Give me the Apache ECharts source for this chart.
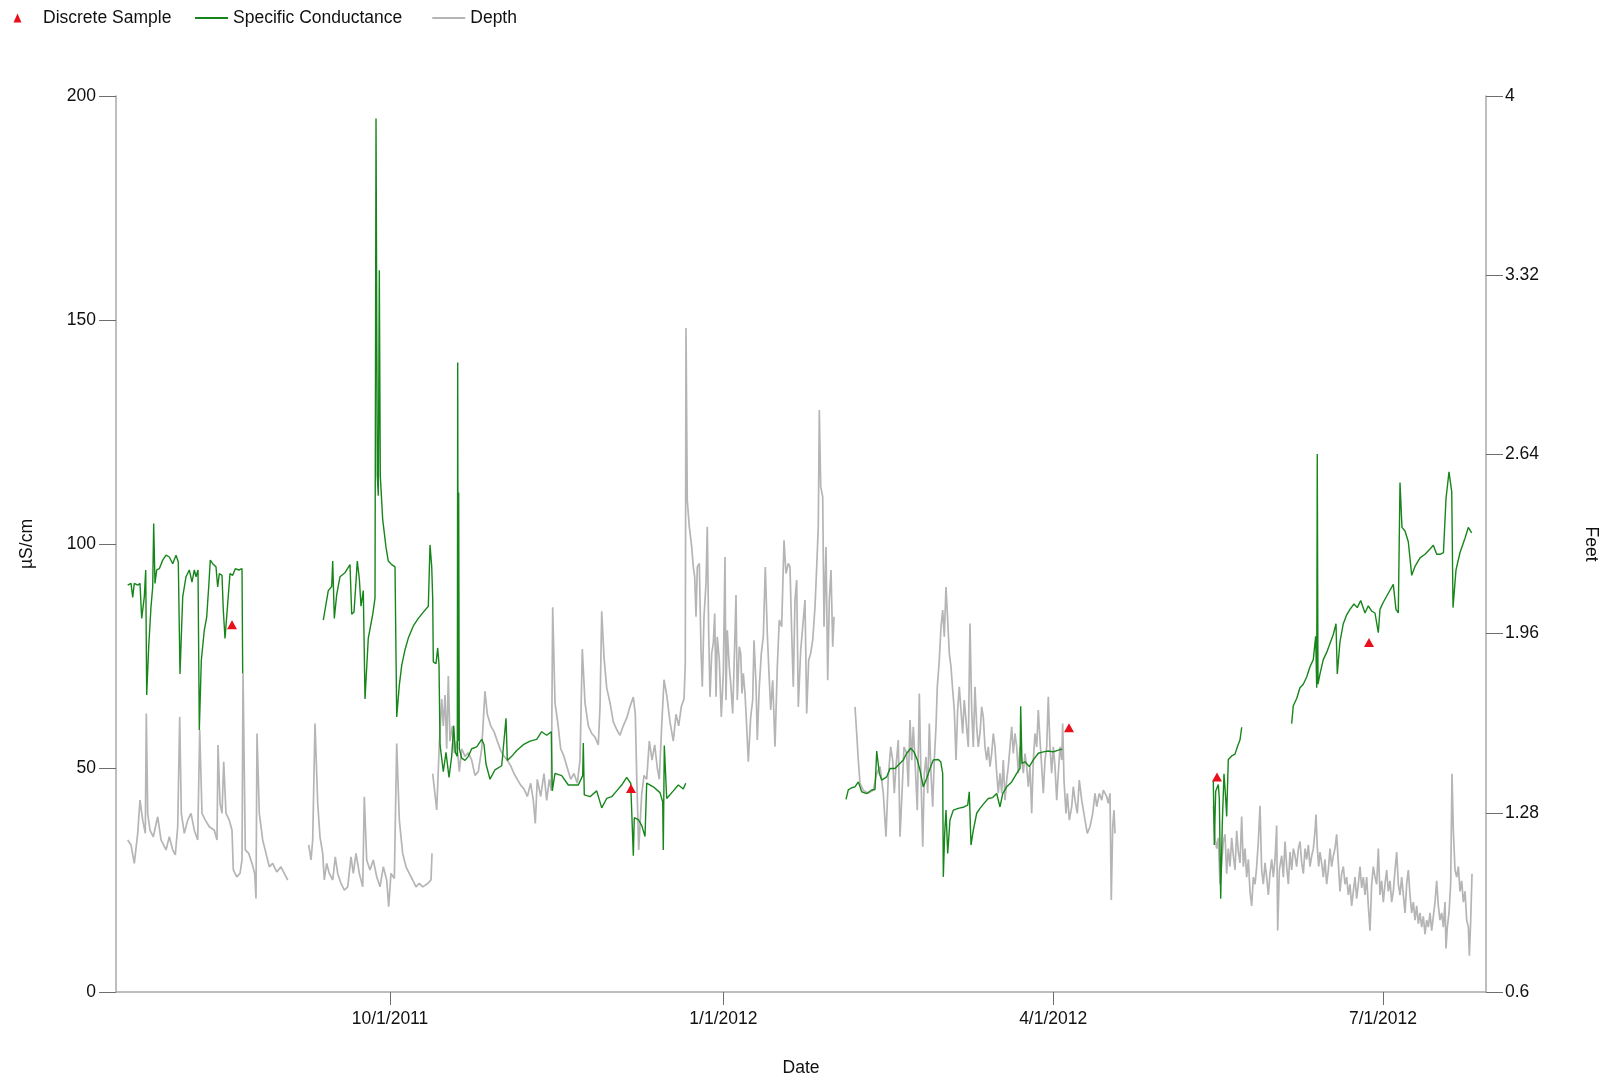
<!DOCTYPE html>
<html>
<head>
<meta charset="utf-8">
<script src="https://cdn.jsdelivr.net/npm/echarts@6/dist/echarts.min.js"></script>
<style>
  html, body { margin: 0; padding: 0; background: #ffffff; }
  #chart { width: 1612px; height: 1083px; }
</style>
</head>
<body>
<div id="chart"></div>
<script>
// Record time is given as days since 1 Jul 2011 00:00 (local time).
const EPOCH = new Date(2011, 6, 1).getTime();
const DAY = 86400000;

// Axis extent (days since epoch) and labelled dates
const dateRange = [16.39, 394.43];
const dateTicks = [[2011, 9, 1], [2012, 0, 1], [2012, 3, 1], [2012, 6, 1]];
const conductanceTicks = { min: 0, max: 200, step: 50 };
const feetTicks = [0.6, 1.28, 1.96, 2.64, 3.32, 4];

// Specific conductance, µS/cm — continuous runs between data gaps
const scRun1 = [[19.62,90.8],[20.53,91.2],[21.00,88.1],[21.44,91.2],[22.38,90.8],[23.01,91.2],[23.48,83.4],[24.20,88.2],[24.59,94.2],[24.86,66.3],[25.41,77],[26.05,86],[26.52,90.4],[26.79,104.6],[27.15,91.2],[27.62,94.2],[28.34,94.5],[29.28,96.4],[30.19,97.5],[31.10,97.1],[32.04,95.6],[32.95,97.5],[33.58,96],[34.05,71],[34.80,88.2],[35.71,92.7],[36.62,94.2],[37.36,91.5],[38.00,94.2],[38.47,92.7],[39.02,94.2],[39.38,58.5],[39.93,74],[40.76,80.8],[41.42,83.7],[41.97,90.4],[42.41,96.4],[43.07,95.6],[43.98,94.9],[44.45,90.4],[44.90,93.4],[45.64,93],[46.00,85.2],[46.47,78.9],[47.21,86.7],[47.85,93.4],[48.59,93],[49.31,94.5],[50.25,94.2],[51.16,94.5],[51.35,71.1]];
const scRun2 = [[73.59,83],[74.97,89.6],[75.91,90.5],[76.19,96.2],[76.63,83.4],[77.29,88.7],[78.20,92.7],[79.58,93.6],[80.96,95.4],[81.43,84.3],[82.06,84.8],[82.53,90.5],[82.97,96.2],[83.53,92.3],[84.00,86.1],[84.63,89.6],[85.10,65.4],[86.01,79],[87.23,84.3],[87.86,87.9],[88.14,195],[88.49,115.2],[88.77,110.8],[89.05,161.1],[89.32,115.2],[89.98,105.5],[90.89,99.3],[91.53,96.2],[92.47,95.4],[93.38,94.9],[93.85,61.4],[94.57,68.5],[95.23,72.9],[96.14,76.4],[97.05,79],[98.43,81.7],[99.81,83.4],[101.19,84.8],[102.57,86.1],[103.04,99.8],[103.51,94.9],[103.78,87.9],[103.95,73.7],[104.69,73.3],[105.16,76.8],[105.52,73.1],[105.80,55.2],[106.71,49.2],[107.45,53.5],[108.28,47.9],[109.02,52.6],[109.58,59.4],[110.02,53.5],[110.57,52.6],[110.68,140.5],[110.84,56],[110.95,111.5],[111.12,54.3],[111.78,52.2],[112.69,51.7],[113.60,52.6],[114.54,54.3],[115.92,54.7],[117.30,56.4],[117.94,55.2],[118.49,50.9],[119.59,47.5],[120.97,49.6],[122.82,50.5],[124.01,61.1],[124.37,51.7],[125.58,52.6],[126.96,53.9],[128.78,55.2],[130.63,56],[132.48,56.4],[133.86,58.1],[135.24,57.3],[136.51,58.1],[136.78,44.9],[137.53,48.8],[139.38,48.3],[141.20,46.2],[143.96,46.2],[145.17,48.3],[145.34,55.6],[145.61,44],[147.19,43.6],[149.03,44.9],[150.42,41.1],[151.79,43.2],[153.18,43.6],[154.55,44.9],[155.93,46.2],[157.31,47.9],[158.42,46.6],[159.14,30.4],[159.41,38.9],[160.51,38.5],[161.45,37.2],[162.36,34.7],[162.83,46.6],[164.65,45.8],[166.50,44.5],[167.25,42.4],[167.41,31.7],[167.69,55],[168.35,43.2],[170.17,44.9],[171.55,46.2],[172.93,45.3],[173.59,46.6]];
const scRun3 = [[217.83,43],[218.46,45.1],[219.40,45.6],[220.31,45.8],[221.22,46.9],[222.16,44.7],[223.54,44.3],[224.92,45.1],[225.83,45.2],[226.30,53.8],[227.02,48.8],[227.68,47.3],[229.06,48],[229.97,49.9],[231.35,49.9],[232.54,50.9],[233.64,51.8],[234.58,53.3],[235.68,54.4],[236.59,53.6],[237.50,51.8],[238.25,49.5],[239.16,45.8],[240.10,47.7],[241.01,49.9],[241.92,51.8],[243.30,51.9],[243.96,51.4],[244.51,48.8],[244.68,25.7],[245.06,35.4],[245.42,40.6],[245.89,30.9],[246.52,38.4],[247.44,40.6],[248.81,41],[250.39,41.3],[251.41,41.7],[251.85,44.7],[252.32,32.8],[252.95,36.1],[253.89,39.9],[254.80,41],[255.90,42.1],[257.09,43.2],[258.31,43.4],[259.41,44.3],[260.32,41.3],[261.07,44.3],[262.17,45.8],[263.55,46.9],[264.93,48.8],[265.84,49.9],[266.03,63.8],[266.39,51],[267.22,51.4],[268.41,50.3],[269.51,51.8],[270.89,53.3],[272.27,53.6],[273.65,53.8],[275.03,53.6],[276.41,54],[277.51,54.2]];
const scRun4 = [[319.18,47.1],[319.46,32.8],[319.84,44.8],[320.56,46.3],[320.84,43.2],[321.22,20.8],[321.66,37.6],[322.13,48.7],[322.60,43.2],[322.87,39.2],[323.32,51.9],[324.26,52.7],[325.17,53.1],[325.80,54.7],[326.55,56.3],[327.02,59.1]];
const scRun5 = [[340.81,59.9],[341.25,63.9],[342.19,65.5],[343.10,67.9],[344.01,68.7],[344.95,70.3],[345.86,72.6],[346.77,74.2],[347.43,79.4],[347.71,67.9],[347.87,120.1],[348.07,68.7],[348.62,71],[349.53,74.2],[350.47,75.8],[351.38,77.8],[352.29,79.8],[353.04,82.2],[353.39,71],[354.14,78.2],[355.05,82.2],[355.99,84.2],[356.90,85.4],[358.00,86.6],[358.91,85.8],[359.85,87.4],[361.04,84.6],[361.95,86.2],[362.89,85],[363.80,84.6],[364.71,80.2],[365.18,85.4],[366.09,87],[367.47,89],[368.85,91],[369.59,85.4],[370.23,84.6],[370.70,113.7],[371.25,103.7],[372.08,102.9],[372.99,100.5],[373.93,93],[374.84,95],[376.22,96.9],[377.60,97.7],[378.98,98.9],[379.89,99.7],[380.83,97.7],[381.74,97.7],[382.69,98.1],[383.39,110.1],[384.22,116.1],[384.97,111.7],[385.33,85.8],[386.15,94.2],[387.26,98.1],[388.64,101.3],[389.54,103.7],[390.48,102.5]];

// Depth, feet — continuous runs between data gaps
const depthRun1 = [[19.62,1.177],[20.53,1.158],[21.44,1.088],[22.38,1.202],[23.01,1.328],[23.76,1.252],[24.48,1.202],[24.75,1.657],[25.14,1.278],[25.77,1.214],[26.68,1.189],[27.90,1.265],[28.81,1.177],[30.19,1.139],[31.10,1.189],[32.04,1.139],[32.75,1.12],[33.42,1.227],[33.97,1.644],[34.41,1.278],[35.24,1.202],[36.18,1.252],[37.09,1.278],[38.00,1.214],[38.93,1.177],[39.49,1.594],[40.12,1.278],[41.03,1.252],[42.14,1.227],[43.52,1.214],[44.26,1.177],[44.54,1.537],[45.09,1.316],[45.64,1.278],[46.11,1.474],[46.74,1.278],[47.65,1.252],[48.40,1.214],[48.76,1.063],[49.70,1.037],[50.61,1.05],[51.16,1.101],[51.44,1.809],[52.07,1.139],[53.01,1.126],[53.92,1.088],[54.66,1.05],[55.02,0.955],[55.30,1.581],[55.93,1.278],[56.87,1.177],[57.78,1.126],[58.69,1.075],[59.63,1.088],[60.73,1.056],[61.92,1.075],[62.83,1.05],[63.77,1.025]];
const depthRun2 = [[69.56,1.158],[70.20,1.101],[70.67,1.177],[71.30,1.619],[72.05,1.316],[72.68,1.189],[73.43,1.126],[73.87,1.025],[74.53,1.088],[75.25,1.05],[76.19,1.025],[76.90,1.113],[77.57,1.05],[78.48,1.012],[79.39,0.987],[80.33,0.999],[81.24,1.113],[81.87,1.05],[82.62,1.126],[83.53,1.05],[84.47,0.999],[84.91,1.341],[85.57,1.101],[86.48,1.063],[87.39,1.101],[88.33,1.037],[89.24,0.999],[90.15,1.075],[91.09,1.025],[91.64,0.924],[92.27,1.05],[93.19,1.031],[93.85,1.543],[94.57,1.252],[95.50,1.126],[96.41,1.075],[97.32,1.05],[98.26,1.025],[99.17,0.999],[100.08,1.012],[101.02,0.999],[102.40,1.012],[103.31,1.025],[103.59,1.126]];
const depthRun3 = [[103.78,1.429],[104.42,1.349],[104.89,1.291],[105.60,1.538],[106.27,1.712],[106.71,1.61],[107.18,1.727],[107.64,1.523],[108.09,1.799],[108.55,1.552],[109.19,1.61],[109.74,1.508],[110.40,1.552],[111.12,1.436],[111.78,1.523],[112.69,1.494],[113.60,1.508],[114.54,1.48],[115.45,1.422],[116.36,1.436],[117.30,1.523],[118.21,1.741],[118.85,1.654],[119.79,1.61],[120.70,1.588],[121.61,1.552],[122.55,1.516],[123.46,1.494],[124.37,1.48],[125.31,1.458],[126.21,1.429],[127.12,1.407],[128.06,1.385],[128.97,1.371],[129.89,1.342],[130.82,1.392],[131.54,1.327],[132.09,1.24],[132.64,1.407],[133.58,1.342],[134.49,1.429],[135.24,1.327],[135.95,1.407],[136.51,1.364],[136.89,2.06],[137.53,1.697],[138.27,1.625],[139.10,1.523],[140.01,1.494],[140.92,1.45],[141.86,1.407],[142.77,1.429],[143.68,1.392],[144.43,1.48],[145.06,1.901],[145.81,1.697],[146.72,1.61],[147.66,1.581],[148.57,1.567],[149.48,1.538],[149.95,1.683],[150.42,2.045],[151.05,1.871],[151.79,1.755],[152.71,1.697],[153.62,1.625],[154.55,1.596],[155.46,1.574],[156.37,1.61],[157.31,1.639],[158.22,1.683],[159.14,1.719],[159.69,1.654],[160.07,1.422],[160.62,1.139],[161.45,1.349],[162.09,1.422],[162.83,1.407],[163.55,1.552],[164.30,1.48],[165.04,1.538],[165.76,1.45],[166.31,1.407],[166.97,1.61],[167.61,1.785],[168.35,1.727],[169.26,1.625],[170.17,1.552],[170.92,1.654],[171.66,1.61],[172.38,1.683],[173.13,1.712],[173.48,1.843],[173.68,3.12],[174.03,2.466],[174.59,2.365],[175.25,2.289],[175.69,2.213],[176.08,2.175],[176.44,2.024],[176.80,2.213],[177.35,2.226],[177.82,1.897],[178.17,1.758],[178.64,2.024],[179.20,2.15],[179.55,2.365],[179.94,1.961],[180.30,1.72],[180.77,1.885],[181.21,1.923],[181.60,2.036],[181.96,1.72],[182.31,1.948],[182.87,1.859],[183.42,1.644],[183.97,1.809],[184.44,2.251],[184.71,1.708],[185.07,1.973],[185.62,1.834],[186.01,1.771],[186.56,1.657],[187.20,1.961],[187.47,2.106],[187.83,1.708],[188.38,1.91],[188.77,1.885],[189.13,1.733],[189.49,1.809],[189.96,1.733],[190.43,1.606],[190.87,1.474],[191.53,1.644],[192.08,1.708],[192.44,1.935],[192.99,1.771],[193.35,1.556],[193.90,1.758],[194.46,1.885],[195.01,1.948],[195.56,2.213],[196.11,1.961],[196.50,1.834],[197.05,1.67],[197.60,1.783],[198.24,1.531],[198.87,1.834],[199.42,2.011],[200.08,1.986],[200.72,2.314],[201.27,2.188],[201.90,2.226],[202.37,2.213],[202.84,1.961],[203.28,1.758],[203.75,2.087],[204.22,2.163],[204.66,1.682],[205.33,1.897],[206.04,2.011],[206.51,2.087],[206.98,1.657],[207.53,1.859],[208.08,1.885],[208.64,1.935],[209.27,2.061],[209.74,2.213],[210.18,2.365],[210.46,2.808],[210.85,2.517],[211.40,2.479],[211.76,1.986],[212.31,2.289],[212.78,1.783],[213.22,2.087],[213.69,2.201],[214.16,1.91],[214.51,2.024]];
const depthRun4 = [[220.31,1.682],[220.78,1.581],[221.22,1.48],[221.69,1.392],[222.60,1.366],[223.98,1.354],[225.36,1.366],[226.30,1.43],[227.21,1.455],[228.12,1.354],[228.86,1.189],[229.50,1.417],[230.16,1.53],[230.71,1.48],[231.15,1.354],[231.62,1.455],[232.26,1.556],[232.73,1.189],[233.28,1.354],[233.83,1.53],[234.58,1.505],[235.02,1.379],[235.49,1.632],[235.96,1.48],[236.40,1.606],[236.95,1.455],[237.50,1.29],[238.06,1.733],[238.52,1.417],[239.00,1.151],[239.44,1.43],[239.91,1.492],[240.37,1.354],[240.82,1.619],[241.28,1.43],[241.75,1.303],[242.19,1.48],[242.66,1.606],[243.02,1.758],[243.57,1.859],[244.04,1.986],[244.51,2.049],[244.95,1.948],[245.42,2.137],[245.89,2.011],[246.33,1.885],[246.80,1.834],[247.27,1.745],[247.71,1.67],[248.18,1.48],[248.64,1.67],[249.09,1.758],[249.55,1.67],[250.02,1.581],[250.46,1.708],[250.93,1.632],[251.57,1.53],[252.04,1.998],[252.51,1.67],[252.95,1.53],[253.42,1.758],[253.89,1.606],[254.33,1.53],[254.80,1.581],[255.27,1.682],[255.71,1.644],[256.18,1.53],[256.65,1.48],[257.09,1.53],[257.56,1.455],[258.03,1.505],[258.47,1.581],[258.94,1.53],[259.41,1.43],[259.85,1.354],[260.32,1.43],[260.79,1.354],[261.23,1.48],[261.70,1.328],[262.17,1.404],[262.61,1.455],[263.08,1.53],[263.55,1.606],[263.99,1.505],[264.46,1.581],[264.93,1.53],[265.37,1.43],[265.84,1.53],[266.31,1.48],[266.75,1.43],[267.22,1.505],[267.69,1.455],[268.13,1.379],[268.60,1.455],[269.07,1.278],[269.51,1.48],[269.98,1.581],[270.45,1.53],[270.89,1.67],[271.36,1.556],[271.83,1.455],[272.27,1.354],[272.74,1.48],[273.21,1.53],[273.65,1.72],[274.12,1.53],[274.58,1.43],[275.03,1.53],[275.50,1.455],[275.97,1.328],[276.41,1.43],[276.88,1.53],[277.35,1.48],[277.62,1.619],[277.98,1.404],[278.53,1.278],[278.89,1.354],[279.45,1.252],[280.11,1.303],[280.55,1.379],[281.02,1.328],[281.65,1.278],[282.20,1.404],[282.87,1.328],[283.78,1.252],[284.41,1.202],[285.16,1.227],[285.90,1.278],[286.54,1.354],[287.01,1.303],[287.72,1.354],[288.39,1.328],[288.83,1.366],[289.30,1.354],[289.76,1.341],[290.21,1.316],[290.67,1.354],[291.03,0.949],[291.42,1.227],[291.78,1.29],[292.05,1.202]];
const depthRun5 = [[319.19,1.307],[319.65,1.185],[320.11,1.144],[320.57,1.185],[321.03,1.009],[321.49,1.09],[321.95,1.171],[322.41,1.198],[322.87,1.049],[323.33,1.144],[323.79,1.076],[324.25,1.185],[324.71,1.117],[325.17,1.063],[325.63,1.212],[326.09,1.131],[326.55,1.09],[327.01,1.266],[327.47,1.076],[327.93,1.144],[328.39,1.036],[328.85,1.103],[329.31,0.982],[329.77,0.927],[330.23,1.036],[330.69,1.009],[331.15,1.076],[331.61,1.171],[332.07,1.307],[332.53,1.063],[332.99,1.009],[333.45,1.09],[333.91,1.036],[334.37,0.968],[334.83,1.049],[335.29,1.103],[335.75,1.036],[336.21,1.103],[336.67,1.232],[336.95,0.833],[337.41,1.063],[338.05,1.117],[338.51,1.036],[338.97,1.171],[339.43,1.076],[339.89,1.009],[340.35,1.131],[340.81,1.063],[341.27,1.144],[341.73,1.117],[342.19,1.076],[342.65,1.144],[343.11,1.171],[343.57,1.09],[344.03,1.049],[344.49,1.144],[344.95,1.103],[345.41,1.158],[345.87,1.076],[346.33,1.117],[346.79,1.144],[347.25,1.212],[347.52,1.273],[347.89,1.144],[348.26,1.076],[348.62,1.131],[349.08,1.09],[349.54,1.036],[350.00,1.103],[350.46,1.009],[350.92,1.063],[351.38,1.144],[351.84,1.076],[352.30,1.117],[352.76,1.144],[353.22,1.198],[353.68,1.09],[354.14,0.982],[354.60,1.049],[355.06,1.076],[355.52,1.009],[355.98,1.036],[356.44,0.968],[356.90,1.009],[357.36,0.927],[357.82,0.982],[358.28,1.036],[358.74,0.954],[359.20,1.009],[359.66,1.076],[360.12,0.995],[360.58,1.036],[361.04,0.968],[361.50,1.036],[361.96,0.927],[362.42,0.833],[362.88,1.009],[363.34,1.076],[363.80,1.036],[364.26,1.009],[364.72,1.144],[365.18,0.968],[365.64,1.022],[366.10,0.941],[366.56,1.009],[367.02,1.063],[367.48,0.982],[367.94,1.022],[368.40,0.941],[368.86,0.982],[369.32,1.063],[369.78,1.131],[370.24,1.009],[370.70,0.968],[371.16,1.036],[371.62,0.968],[372.08,0.9],[372.54,1.009],[373.00,1.063],[373.46,0.968],[373.92,0.9],[374.38,0.941],[374.84,0.873],[375.30,0.927],[375.76,0.859],[376.22,0.9],[376.68,0.846],[377.14,0.887],[377.60,0.819],[378.06,0.873],[378.52,0.846],[378.98,0.9],[379.44,0.833],[379.90,0.887],[380.36,0.941],[380.82,1.022],[381.28,0.927],[381.74,0.873],[382.20,0.9],[382.66,0.846],[383.12,0.941],[383.39,0.765],[383.76,0.846],[384.22,0.9],[384.68,1.009],[385.05,1.428],[385.42,1.212],[385.88,1.063],[386.34,1.036],[386.80,1.076],[387.26,0.982],[387.72,1.022],[388.18,0.941],[388.64,0.982],[389.10,0.873],[389.56,0.846],[389.84,0.738],[390.21,0.873],[390.57,1.049]];

// Discrete samples, µS/cm
const discreteSamples = [[48.40,82],[158.50,45.4],[279.36,59],[320.20,48],[362.14,78]];

const conductanceRuns = [scRun1, scRun2, scRun3, scRun4, scRun5];
const depthRuns = [depthRun1, depthRun2, depthRun3, depthRun4, depthRun5];

const toTime = d => EPOCH + d * DAY;

// Join runs into one series, with an empty point between runs so the line breaks.
function joinRuns(runs) {
  const out = [];
  runs.forEach((run, i) => {
    if (i > 0) out.push([toTime(run[0][0] - 0.01), null]);
    run.forEach(p => out.push([toTime(p[0]), p[1]]));
  });
  return out;
}

const FONT = "'Liberation Sans', Arial, sans-serif";
const FONT_SIZE = 17.5;
const TEXT = '#111111';
const AXIS_LINE = '#a8a8a8';
const TICK = '#6e6e6e';
const GREEN = '#17861a';
const GREY = '#b5b5b5';
const RED = '#e8101a';
const tickTimes = dateTicks.map(t => new Date(t[0], t[1], t[2]).getTime());
const formatDate = v => { const d = new Date(v); return (d.getMonth() + 1) + '/' + d.getDate() + '/' + d.getFullYear(); };

// Legend marks: a small triangle set left in a wide box, and thin bars for the lines.
const TRIANGLE_ICON = 'path://M0,0M33,9M8.5,9L12.5,0L16.5,9Z';
const textStyle = { fontFamily: FONT, fontSize: FONT_SIZE, color: TEXT };

const chart = echarts.init(document.getElementById('chart'), null, { renderer: 'canvas' });

chart.setOption({
  animation: false,
  backgroundColor: '#ffffff',
  textStyle: { fontFamily: FONT },
  legend: [
    {
      data: [{ name: 'Discrete Sample', icon: TRIANGLE_ICON, itemStyle: { color: RED, opacity: 1 } }],
      left: 5, top: 9, padding: 0,
      itemWidth: 33, itemHeight: 9,
      symbolKeepAspect: true,
      textStyle
    },
    {
      data: [
        { name: 'Specific Conductance', icon: 'rect', itemStyle: { color: GREEN } },
        { name: 'Depth', icon: 'rect', itemStyle: { color: GREY } }
      ],
      left: 195, top: 9, padding: 0,
      itemWidth: 33, itemHeight: 2, itemGap: 30,
      textStyle
    }
  ],
  grid: { left: 116, right: 126, top: 96, bottom: 91, containLabel: false },
  // Time runs on a numeric axis (milliseconds) so only the quarter dates are ticked.
  xAxis: {
    type: 'value',
    min: toTime(dateRange[0]),
    max: toTime(dateRange[1]),
    name: 'Date',
    nameLocation: 'middle',
    nameGap: 67,
    nameTextStyle: textStyle,
    axisLine: { show: true, onZero: false, lineStyle: { color: AXIS_LINE, width: 1.5 } },
    axisTick: { show: true, length: 13, customValues: tickTimes, lineStyle: { color: TICK, width: 1 } },
    axisLabel: Object.assign({ customValues: tickTimes, margin: 18, formatter: formatDate }, textStyle),
    splitLine: { show: false }
  },
  yAxis: [
    {
      type: 'value',
      min: conductanceTicks.min, max: conductanceTicks.max, interval: conductanceTicks.step,
      name: 'µS/cm',
      nameLocation: 'middle',
      nameRotate: 90,
      nameGap: 80,
      nameTextStyle: textStyle,
      axisLine: { show: true, onZero: false, lineStyle: { color: AXIS_LINE, width: 1.5 } },
      axisTick: { show: true, length: 17, lineStyle: { color: TICK, width: 1 } },
      axisLabel: Object.assign({ margin: 20 }, textStyle),
      splitLine: { show: false }
    },
    {
      type: 'value',
      position: 'right',
      min: feetTicks[0], max: feetTicks[feetTicks.length - 1],
      name: 'Feet',
      nameLocation: 'middle',
      nameRotate: -90,
      nameGap: 96,
      nameTextStyle: textStyle,
      axisLine: { show: true, onZero: false, lineStyle: { color: AXIS_LINE, width: 1.5 } },
      axisTick: { show: true, length: 17, customValues: feetTicks, lineStyle: { color: TICK, width: 1 } },
      axisLabel: Object.assign({
        customValues: feetTicks, margin: 19,
        formatter: v => String(+Number(v).toFixed(2))
      }, textStyle),
      splitLine: { show: false }
    }
  ],
  series: [
    {
      name: 'Depth',
      type: 'line',
      yAxisIndex: 1,
      data: joinRuns(depthRuns),
      symbol: 'none',
      connectNulls: false,
      lineStyle: { color: GREY, width: 1.7 },
      itemStyle: { color: GREY },
      z: 2
    },
    {
      name: 'Specific Conductance',
      type: 'line',
      yAxisIndex: 0,
      data: joinRuns(conductanceRuns),
      symbol: 'none',
      connectNulls: false,
      lineStyle: { color: GREEN, width: 1.4 },
      itemStyle: { color: GREEN },
      z: 3
    },
    {
      name: 'Discrete Sample',
      type: 'scatter',
      yAxisIndex: 0,
      data: discreteSamples.map(p => [toTime(p[0]), p[1]]),
      symbol: 'triangle',
      symbolSize: [10, 9],
      symbolKeepAspect: true,
      itemStyle: { color: RED, opacity: 1 },
      z: 5
    }
  ]
});
</script>
</body>
</html>
